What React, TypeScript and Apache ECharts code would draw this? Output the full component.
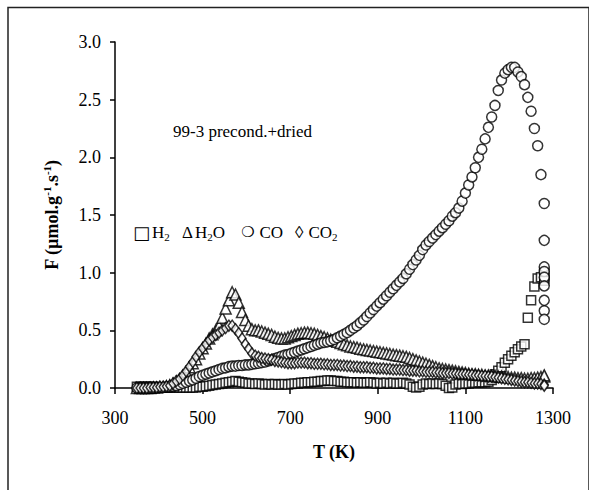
import React, { useEffect, useRef } from "react";
import * as echarts from "echarts";

// Temperature grid (K) of the TPD run
const temps = [
  350, 357.5, 365, 372.5, 380, 387.5, 395, 402.5, 410, 417.5,
  425, 432.5, 440, 447.5, 455, 462.5, 470, 477.5, 485, 492.5,
  500, 507.5, 515, 522.5, 530, 537.5, 545, 552.5, 560, 567.5,
  575, 582.5, 590, 597.5, 605, 612.5, 620, 627.5, 635, 642.5,
  650, 657.5, 665, 672.5, 680, 687.5, 695, 702.5, 710, 717.5,
  725, 732.5, 740, 747.5, 755, 762.5, 770, 777.5, 785, 792.5,
  800, 807.5, 815, 822.5, 830, 837.5, 845, 852.5, 860, 867.5,
  875, 882.5, 890, 897.5, 905, 912.5, 920, 927.5, 935, 942.5,
  950, 957.5, 965, 972.5, 980, 987.5, 995, 1002.5, 1010, 1017.5,
  1025, 1032.5, 1040, 1047.5, 1055, 1062.5, 1070, 1077.5, 1085, 1092.5,
  1100, 1107.5, 1115, 1122.5, 1130, 1137.5, 1145, 1152.5, 1160, 1167.5,
  1175, 1182.5, 1190, 1197.5, 1205, 1212.5, 1220, 1227.5, 1235, 1242.5,
  1250, 1257.5, 1265, 1272.5, 1280,
];

const h2 = [
  0.01, 0.01, 0.01, 0.01, 0.01, 0.01, 0.005, 0.005, 0.005, 0.005,
  0.005, 0.005, 0.005, 0.005, 0.005, 0.005, 0.005, 0.005, 0.005, 0.01,
  0.01, 0.015, 0.02, 0.025, 0.03, 0.035, 0.04, 0.045, 0.05, 0.055,
  0.06, 0.055, 0.05, 0.045, 0.04, 0.04, 0.035, 0.04, 0.035, 0.03,
  0.035, 0.03, 0.035, 0.03, 0.03, 0.035, 0.03, 0.035, 0.04, 0.04,
  0.045, 0.045, 0.05, 0.05, 0.055, 0.055, 0.06, 0.06, 0.065, 0.065,
  0.06, 0.06, 0.055, 0.055, 0.05, 0.05, 0.05, 0.045, 0.05, 0.045,
  0.045, 0.05, 0.045, 0.04, 0.045, 0.04, 0.045, 0.04, 0.045, 0.04,
  0.04, 0.045, 0.04, 0.03, 0.01, 0.005, 0.01, 0.03, 0.04, 0.035,
  0.04, 0.035, 0.04, 0.035, 0.02, 0.0, 0.005, 0.03, 0.04, 0.035,
  0.04, 0.04, 0.045, 0.045, 0.05, 0.05, 0.05, 0.055, 0.07, 0.12,
  0.15, 0.18, 0.22, 0.25, 0.28, 0.31, 0.335, 0.36, 0.38, 0.61,
  0.76, 0.88, 0.95, 0.96, 0.95,
];

const h2o = [
  0, 0, 0, 0, 0, 0.005, 0.005, 0.01, 0.01, 0.015,
  0.025, 0.04, 0.055, 0.075, 0.1, 0.14, 0.18, 0.215, 0.25, 0.3,
  0.345, 0.385, 0.43, 0.465, 0.5, 0.54, 0.61, 0.69, 0.76, 0.83,
  0.81, 0.74, 0.66, 0.59, 0.54, 0.51, 0.5, 0.5, 0.49, 0.48,
  0.47, 0.46, 0.445, 0.435, 0.43, 0.43, 0.44, 0.45, 0.46, 0.47,
  0.475, 0.48, 0.48, 0.475, 0.47, 0.46, 0.45, 0.44, 0.43, 0.42,
  0.41, 0.4, 0.39, 0.38, 0.37, 0.36, 0.355, 0.35, 0.34, 0.335,
  0.33, 0.325, 0.32, 0.315, 0.31, 0.305, 0.3, 0.295, 0.29, 0.285,
  0.28, 0.275, 0.27, 0.26, 0.25, 0.24, 0.23, 0.22, 0.21, 0.2,
  0.19, 0.18, 0.17, 0.165, 0.16, 0.155, 0.15, 0.145, 0.14, 0.135,
  0.13, 0.125, 0.12, 0.12, 0.115, 0.115, 0.11, 0.11, 0.105, 0.105,
  0.1, 0.1, 0.095, 0.095, 0.09, 0.09, 0.085, 0.085, 0.08, 0.08,
  0.085, 0.085, 0.09, 0.095, 0.1,
];

const co = [
  0, 0, 0, 0, 0, 0, 0.005, 0.005, 0.005, 0.01,
  0.01, 0.015, 0.02, 0.03, 0.04, 0.05, 0.06, 0.07, 0.085, 0.1,
  0.11, 0.12, 0.13, 0.14, 0.15, 0.16, 0.17, 0.175, 0.185, 0.19,
  0.19, 0.195, 0.195, 0.2, 0.2, 0.205, 0.21, 0.215, 0.22, 0.225,
  0.235, 0.245, 0.255, 0.265, 0.275, 0.285, 0.29, 0.3, 0.31, 0.32,
  0.33, 0.34, 0.35, 0.36, 0.37, 0.38, 0.39, 0.395, 0.4, 0.41,
  0.42, 0.435, 0.45, 0.465, 0.48, 0.5, 0.52, 0.54, 0.565, 0.59,
  0.62, 0.65, 0.68, 0.71, 0.74, 0.77, 0.8, 0.83, 0.86, 0.89,
  0.92, 0.95, 0.99, 1.03, 1.07, 1.11, 1.15, 1.2, 1.24, 1.27,
  1.3, 1.33, 1.36, 1.39, 1.42, 1.45, 1.49, 1.52, 1.56, 1.62,
  1.69, 1.76, 1.83, 1.91, 2.0, 2.07, 2.16, 2.26, 2.35, 2.45,
  2.58, 2.67, 2.73, 2.76, 2.78, 2.78, 2.74, 2.7, 2.63, 2.52,
  2.4, 2.25, 2.1, 1.85, 1.6,
];

const co2 = [
  0, 0, 0, 0, 0.005, 0.005, 0.005, 0.01, 0.01, 0.015,
  0.02, 0.04, 0.06, 0.08, 0.11, 0.145, 0.185, 0.225, 0.27, 0.31,
  0.345, 0.38, 0.415, 0.44, 0.46, 0.48, 0.5, 0.52, 0.54, 0.54,
  0.51, 0.475, 0.43, 0.38, 0.34, 0.3, 0.28, 0.27, 0.26, 0.255,
  0.25, 0.245, 0.235, 0.23, 0.225, 0.22, 0.215, 0.215, 0.215, 0.22,
  0.22, 0.22, 0.215, 0.215, 0.21, 0.21, 0.21, 0.205, 0.205, 0.2,
  0.2, 0.2, 0.195, 0.195, 0.19, 0.19, 0.185, 0.185, 0.18, 0.18,
  0.18, 0.175, 0.175, 0.17, 0.17, 0.17, 0.165, 0.165, 0.16, 0.16,
  0.16, 0.155, 0.155, 0.15, 0.15, 0.15, 0.145, 0.145, 0.14, 0.14,
  0.14, 0.135, 0.135, 0.13, 0.13, 0.13, 0.125, 0.125, 0.12, 0.12,
  0.12, 0.115, 0.115, 0.11, 0.11, 0.105, 0.105, 0.1, 0.1, 0.095,
  0.09, 0.085, 0.08, 0.075, 0.07, 0.065, 0.06, 0.055, 0.05, 0.05,
  0.045, 0.04, 0.04, 0.035, 0.03,
];

// Isothermal hold at the final temperature
const holdT = 1280;
const h2Hold = [0.97, 1.0, 0.93];
const h2oHold = [0.11];
const coHold = [1.28, 1.05, 1.01, 0.96, 0.885, 0.76, 0.67, 0.595];
const co2Hold = [0.02];

const xTicks = { min: 300, max: 1300, interval: 200 };
const yTicks = { min: 0, max: 3, interval: 0.5 };

const mk = (vals: number[], hold: number[]) =>
  temps.map((t, i) => [t, vals[i]]).concat(hold.map((v) => [holdT, v]));

const SERIF = "Liberation Serif";

export default function App() {
  const ref = useRef<HTMLDivElement>(null);
  useEffect(() => {
    if (!ref.current) return;
    const chart = echarts.init(ref.current, null, { renderer: "svg" });
    const sym = {
      color: "#ffffff",
      borderColor: "#000000",
      borderWidth: 1.5,
    };
    const legendRich = {
      sq: { fontFamily: "DejaVu Sans", fontSize: 18, padding: [0, 2, 0, 0] },
      tri: { fontFamily: SERIF, fontSize: 17, padding: [0, 2, 0, 0] },
      ci: { fontFamily: "DejaVu Sans", fontSize: 15, fontWeight: "bold", padding: [0, 5, 0, 0] },
      di: { fontFamily: SERIF, fontSize: 17, padding: [0, 5, 0, 0] },
      t: { fontFamily: SERIF, fontSize: 17, lineHeight: 20 },
      sub: { fontFamily: SERIF, fontSize: 11, lineHeight: 11, verticalAlign: "bottom" },
    };
    const legendText = (x: number, text: string) => ({
      type: "text",
      x,
      y: 232,
      style: {
        text,
        rich: legendRich,
        fill: "#000",
        fontFamily: SERIF,
        fontSize: 17,
        verticalAlign: "middle",
      },
    });
    chart.setOption({
      animation: false,
      backgroundColor: "#ffffff",
      grid: { left: 115, right: 36, top: 42, bottom: 102, containLabel: false },
      xAxis: {
        type: "value",
        min: xTicks.min,
        max: xTicks.max,
        interval: xTicks.interval,
        name: "T (K)",
        nameLocation: "middle",
        nameGap: 55,
        nameTextStyle: { fontFamily: SERIF, fontWeight: "bold", fontSize: 18, color: "#000" },
        axisLine: { show: true, onZero: false, lineStyle: { color: "#000", width: 1.5 } },
        axisTick: { show: true, inside: false, length: 6, lineStyle: { color: "#000", width: 1.5 } },
        axisLabel: {
          fontFamily: SERIF,
          fontSize: 18,
          color: "#000",
          margin: 21,
          formatter: (v: number) => String(v),
        },
        splitLine: { show: false },
      },
      yAxis: {
        type: "value",
        min: yTicks.min,
        max: yTicks.max,
        interval: yTicks.interval,
        name: "F (µmol.g{sup|-1}.s{sup|-1})",
        nameLocation: "middle",
        nameGap: 52,
        nameTextStyle: {
          fontFamily: SERIF,
          fontWeight: "bold",
          fontSize: 18,
          color: "#000",
          lineHeight: 22,
          rich: {
            sup: {
              fontFamily: SERIF,
              fontWeight: "bold",
              fontSize: 11,
              lineHeight: 11,
              verticalAlign: "top",
              color: "#000",
            },
          },
        },
        axisLine: { show: true, lineStyle: { color: "#000", width: 1.5 } },
        axisTick: { show: true, inside: false, length: 5, lineStyle: { color: "#000", width: 1.5 } },
        axisLabel: {
          fontFamily: SERIF,
          fontSize: 18,
          color: "#000",
          margin: 14,
          formatter: (v: number) => v.toFixed(1),
        },
        splitLine: { show: false },
      },
      graphic: [
        {
          type: "rect",
          shape: { x: 8, y: 7.5, width: 581, height: 500 },
          style: { fill: "none", stroke: "#222", lineWidth: 1.5 },
          silent: true,
        },
        {
          type: "text",
          x: 173,
          y: 131,
          style: {
            text: "99-3 precond.+dried",
            fontFamily: SERIF,
            fontSize: 17,
            fill: "#000",
            verticalAlign: "middle",
          },
        },
        legendText(133, "{sq|□}{t|H}{sub|2}"),
        legendText(182, "{tri|Δ}{t|H}{sub|2}{t|O}"),
        legendText(241, "{ci|❍}{t|CO}"),
        legendText(295, "{di|◊}{t|CO}{sub|2}"),
      ],
      series: [
        {
          name: "H2",
          type: "scatter",
          symbol: "rect",
          symbolSize: 9,
          itemStyle: sym,
          data: mk(h2, h2Hold),
        },
        {
          name: "H2O",
          type: "scatter",
          symbol: "triangle",
          symbolSize: [11, 11],
          itemStyle: sym,
          data: mk(h2o, h2oHold),
        },
        {
          name: "CO",
          type: "scatter",
          symbol: "circle",
          symbolSize: 10,
          itemStyle: sym,
          data: mk(co, coHold),
        },
        {
          name: "CO2",
          type: "scatter",
          symbol: "diamond",
          symbolSize: [8, 11],
          itemStyle: sym,
          data: mk(co2, co2Hold),
        },
      ],
    });
    return () => chart.dispose();
  }, []);
  return (
    <div
      ref={ref}
      style={{ position: "absolute", left: 0, top: 0, width: 589, height: 490, background: "#fff" }}
    />
  );
}
